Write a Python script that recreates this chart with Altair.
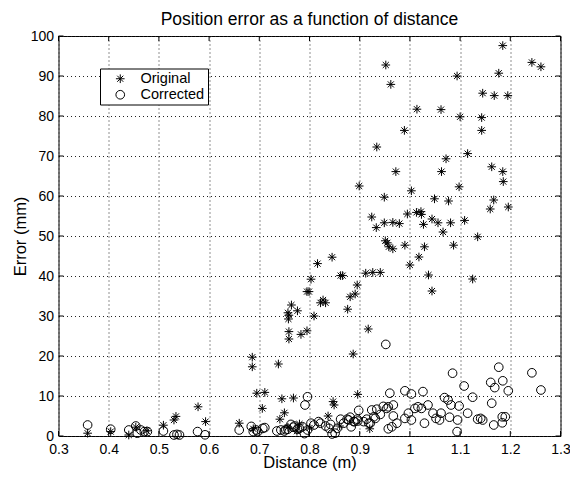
import altair as alt
import pandas as pd

# ---- data ----
orig_x = [1.185, 1.243, 1.261, 0.952, 0.962, 1.094, 1.177, 1.145, 1.168, 1.195,
          1.014, 1.062, 1.100, 1.143, 0.989, 1.143, 0.934, 1.115, 1.072,
          0.972, 1.063, 1.163, 1.185, 1.186, 0.899, 1.098, 1.003, 0.949, 1.049,
          1.077, 1.167, 1.160, 1.196, 0.924, 0.995, 1.013, 1.022, 1.023, 0.933,
          0.949, 0.966, 0.979, 1.044, 1.056, 1.081, 1.109, 1.027, 1.066, 1.135,
          0.951, 0.955, 0.958, 0.966, 0.990, 1.029, 1.087, 1.018, 1.000, 1.037,
          1.125, 1.044,
          0.816, 0.845, 0.803, 0.862, 0.866, 0.912, 0.926, 0.941, 0.895, 0.881,
          0.891, 0.795, 0.799, 0.822, 0.832, 0.827, 0.876,
          0.764, 0.776, 0.757, 0.759, 0.758, 0.809, 0.759, 0.759, 0.783, 0.795,
          0.917, 0.887, 0.686, 0.686, 0.738,
          0.695, 0.711, 0.706, 0.745, 0.768, 0.750, 0.741, 0.578, 0.593, 0.534,
          0.530, 0.509, 0.660, 0.358, 0.404, 0.440, 0.454,
          0.847, 0.849, 0.896, 0.837,
          0.476, 0.688, 0.757, 0.775, 0.800, 0.860, 0.920, 0.780]
orig_y = [97.6, 93.4, 92.3, 92.75, 87.9, 90.0, 90.7, 85.7, 85.1, 85.1,
          81.7, 81.6, 79.8, 79.6, 76.4, 76.4, 72.25, 70.6, 69.3,
          66.1, 66.1, 67.3, 66.1, 63.6, 62.5, 62.3, 61.3, 59.7, 59.3,
          58.75, 59.0, 56.75, 57.25, 54.75, 55.5, 55.9, 56.1, 55.4, 52.1,
          53.3, 53.4, 53.1, 54.25, 53.3, 53.3, 53.9, 52.9, 51.0, 49.8,
          48.8, 48.3, 47.3, 46.8, 47.7, 47.3, 47.7, 44.75, 42.75, 40.25,
          39.25, 36.25,
          43.1, 44.7, 39.2, 40.1, 40.1, 40.7, 40.9, 40.9, 37.75, 34.8,
          35.5, 36.1, 36.1, 33.3, 33.3, 34.0, 31.7,
          32.75, 31.3, 30.8, 30.2, 29.25, 30.0, 26.1, 24.25, 25.4, 26.3,
          26.75, 20.5, 19.7, 17.3, 18.0,
          10.7, 10.9, 6.9, 9.3, 9.5, 5.8, 4.2, 7.3, 3.6, 4.9,
          4.0, 2.7, 3.2, 0.7, 1.1, 0.25, 2.2,
          8.6, 7.75, 10.4, 5.0,
          1.3, 1.8, 2.2, 1.2, 2.0, 2.5, 1.8, 3.0]

corr_x = [0.358, 0.404, 0.440, 0.454, 0.457, 0.464, 0.471, 0.477, 0.509, 0.530,
          0.536, 0.541, 0.577, 0.592, 0.660, 0.684, 0.688, 0.694, 0.697, 0.707,
          0.711, 0.735, 0.743, 0.750, 0.753, 0.757, 0.763, 0.768, 0.770, 0.776,
          0.780, 0.786, 0.796, 0.796, 0.791, 0.803, 0.809, 0.818, 0.822, 0.832,
          0.839, 0.842, 0.851, 0.855, 0.862, 0.868, 0.875, 0.878, 0.881, 0.883,
          0.888, 0.890, 0.895, 0.896, 0.898, 0.908, 0.914, 0.918, 0.921, 0.924,
          0.928, 0.931, 0.934, 0.941, 0.947, 0.954, 0.957, 0.957, 0.960, 0.964,
          0.967, 0.967, 0.974, 0.952, 0.990, 1.003, 1.026, 0.990, 0.997, 1.003,
          1.010, 1.016, 1.023, 1.029, 1.036, 1.046, 1.052, 1.059, 1.062, 1.069,
          1.076, 1.082, 1.079, 1.085, 1.095, 1.098, 1.094, 1.108, 1.115, 1.125,
          1.135, 1.141, 1.145, 1.163, 1.167, 1.161, 1.169, 1.177, 1.184, 1.185,
          1.184, 1.196, 1.243, 1.261, 1.190, 0.790, 0.845]
corr_y = [2.75, 1.7, 1.5, 2.5, 0.7, 1.5, 1.1, 1.1, 1.25, 0.25,
          0.4, 0.25, 1.1, 0.3, 1.5, 2.4, 1.1, 1.5, 1.1, 1.9,
          2.1, 1.25, 1.5, 1.25, 1.6, 1.7, 2.9, 2.2, 2.5, 1.7,
          1.9, 2.3, 1.5, 9.8, 7.75, 3.2, 2.75, 3.6, 3.2, 2.5,
          1.9, 2.9, 0.7, 1.9, 4.2, 3.2, 4.2, 4.0, 4.7, 2.3,
          3.6, 3.6, 4.2, 3.75, 6.4, 3.6, 4.2, 3.2, 3.2, 6.5,
          4.8, 4.4, 6.7, 5.4, 7.4, 6.9, 7.3, 1.8, 10.7, 2.3,
          7.75, 5.0, 3.2, 22.9, 11.3, 10.5, 11.1, 4.4, 5.7, 4.0,
          6.9, 7.3, 6.9, 3.2, 7.75, 5.7, 4.4, 4.0, 5.7, 9.6,
          9.0, 7.75, 4.7, 15.7, 4.0, 7.5, 1.1, 12.5, 5.7, 9.7,
          4.2, 4.4, 4.0, 8.2, 2.75, 13.4, 12.1, 17.2, 4.8, 13.8,
          3.3, 11.3, 15.8, 11.5, 4.8, 0.6, 0.5]

series_names = ["Original", "Corrected"]
x_ticks = [0.3, 0.4, 0.5, 0.6, 0.7, 0.8, 0.9, 1.0, 1.1, 1.2, 1.3]
y_ticks = [0, 10, 20, 30, 40, 50, 60, 70, 80, 90, 100]

df = pd.DataFrame({
    "Distance": orig_x + corr_x,
    "Error": orig_y + corr_y,
    "Series": [series_names[0]] * len(orig_x) + [series_names[1]] * len(corr_x),
})
xt = pd.DataFrame({"Distance": x_ticks})
yt = pd.DataFrame({"Error": y_ticks})

STAR = "M0,-1L0,1M-1,0L1,0M-0.7,-0.7L0.7,0.7M-0.7,0.7L0.7,-0.7"
W, H = 502, 400
FONT = "Liberation Sans"

xs = alt.Scale(domain=[0.3, 1.3], nice=False, zero=False, padding=0)
ys = alt.Scale(domain=[0, 100], nice=False, zero=False, padding=0)
x_axis = alt.Axis(values=x_ticks, format="~g", title="Distance (m)", labelFlush=False,
                  labelPadding=6, titlePadding=-2)
y_axis = alt.Axis(values=y_ticks, title="Error (mm)", labelPadding=5, titlePadding=2)

points = alt.Chart(df).mark_point(filled=False, color="black", strokeWidth=1,
                                  opacity=1, size=75).encode(
    x=alt.X("Distance:Q", scale=xs, axis=x_axis),
    y=alt.Y("Error:Q", scale=ys, axis=y_axis),
    shape=alt.Shape("Series:N",
                    scale=alt.Scale(domain=series_names, range=[STAR, "circle"]),
                    legend=alt.Legend(title=None, orient="none", legendX=41.5, legendY=32.5,
                                      direction="vertical", fillColor="white",
                                      strokeColor="black", padding=3, rowPadding=1,
                                      symbolOffset=10, labelOffset=13,
                                      labelFont=FONT, labelFontSize=14.5, labelColor="black",
                                      symbolSize=75, symbolStrokeColor="black",
                                      symbolFillColor="transparent", symbolStrokeWidth=1)),
)

tick_bottom = alt.Chart(xt).mark_rule(color="black", strokeWidth=1).encode(
    x=alt.X("Distance:Q", scale=xs, axis=x_axis), y=alt.value(H), y2=alt.value(H - 5))
tick_top = alt.Chart(xt).mark_rule(color="black", strokeWidth=1).encode(
    x=alt.X("Distance:Q", scale=xs, axis=x_axis), y=alt.value(0), y2=alt.value(5))
tick_left = alt.Chart(yt).mark_rule(color="black", strokeWidth=1).encode(
    y=alt.Y("Error:Q", scale=ys, axis=y_axis), x=alt.value(0), x2=alt.value(5))
tick_right = alt.Chart(yt).mark_rule(color="black", strokeWidth=1).encode(
    y=alt.Y("Error:Q", scale=ys, axis=y_axis), x=alt.value(W), x2=alt.value(W - 5))

chart = alt.layer(tick_bottom, tick_top, tick_left, tick_right, points).properties(
    width=W, height=H,
    autosize=alt.AutoSizeParams(type="none"),
    padding={"left": 50.5, "top": 28, "right": 9.5, "bottom": 35},
    title=alt.Title("Position error as a function of distance", fontSize=17.5, font=FONT,
                    fontWeight="normal", color="black", offset=1, anchor="middle"),
    background="white",
).configure_axis(
    labelFont=FONT, labelFontSize=14, labelColor="black",
    titleFont=FONT, titleFontSize=16.5, titleFontWeight="normal", titleColor="black",
    domain=False, ticks=False, tickSize=0,
    grid=True, gridColor="#222222", gridDash=[1, 3], gridWidth=1, gridOpacity=1,
).configure_view(stroke="black", strokeWidth=1)

chart.save("out.html", embed_options={"renderer": "svg", "actions": False})
